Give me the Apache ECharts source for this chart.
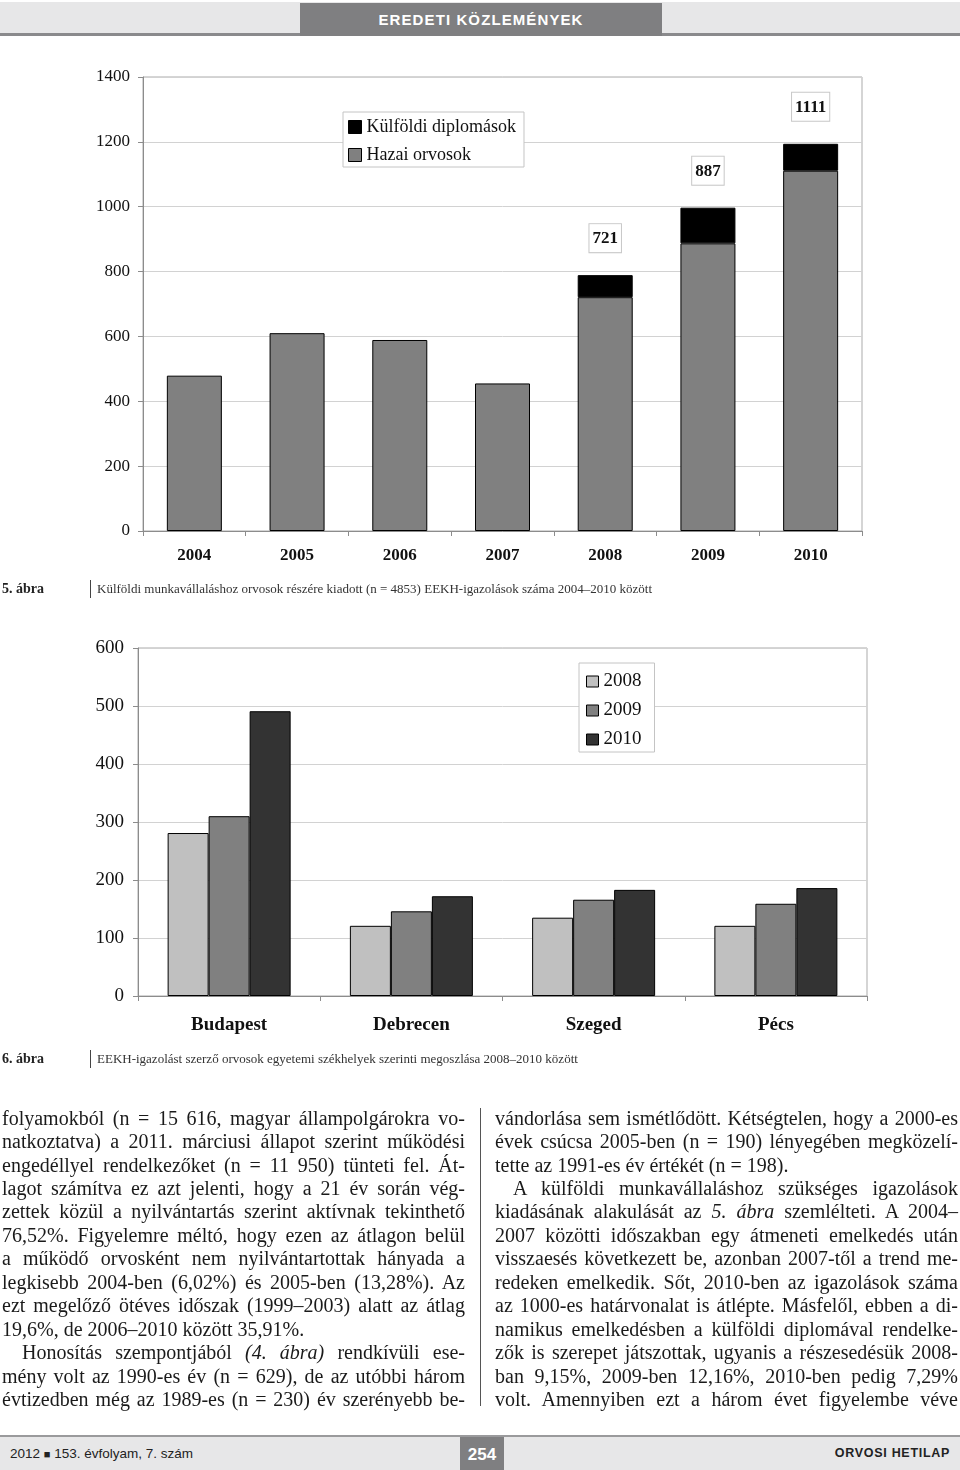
<!DOCTYPE html>
<html>
<head>
<meta charset="utf-8">
<script src="https://cdn.jsdelivr.net/npm/echarts@6/dist/echarts.min.js"></script>
<style>
html,body{margin:0;padding:0;background:#fff;}
body{width:960px;height:1470px;position:relative;overflow:hidden;}
#chart{position:absolute;left:0;top:0;width:960px;height:1470px;}
.abs{position:absolute;z-index:2;}
.hdrband{left:0;top:2px;width:960px;height:31px;background:#e7e7e8;border-bottom:3px solid #8a8a8c;}
.hdrbox{left:300px;top:3px;width:362px;height:33px;background:#7f7f81;color:#fff;font-family:"Liberation Sans",Arial,sans-serif;font-size:15px;font-weight:bold;letter-spacing:1.1px;line-height:34px;text-align:center;}
.cap{font-family:"Liberation Serif",serif;font-size:13px;color:#333;line-height:18px;white-space:nowrap;}
.capnum{font-family:"Liberation Serif",serif;font-size:14px;font-weight:bold;color:#222;line-height:18px;}
.capbar{width:0;border-left:1px solid #444;height:18px;}
.col{font-family:"Liberation Serif",serif;font-size:20px;color:#1a1a1a;}
.ln{height:23.47px;line-height:23.47px;text-align:justify;text-align-last:justify;white-space:normal;}
.ln.last{text-align:left;text-align-last:left;}
.ln.ind{text-indent:20px;}
.rule{left:480px;top:1108px;width:0;height:298px;border-left:1px solid #555;}
.ftline{left:0;top:1435px;width:960px;height:2px;background:#9a9a9c;}
.ftband{left:0;top:1437px;width:960px;height:33px;background:#e7e7e8;}
.ftleft{left:10px;top:1437px;height:33px;line-height:33px;font-family:"Liberation Sans",Arial,sans-serif;font-size:13.5px;color:#222;}
.ftbox{left:460px;top:1437px;width:44px;height:33px;background:#7f7f81;color:#fff;font-family:"Liberation Sans",Arial,sans-serif;font-size:17px;font-weight:bold;line-height:35px;text-align:center;}
.ftright{right:10px;top:1437px;height:33px;line-height:33px;font-family:"Liberation Sans",Arial,sans-serif;font-size:12.5px;font-weight:bold;letter-spacing:0.7px;color:#222;}
</style>
</head>
<body>
<div id="chart"></div>

<div class="abs hdrband"></div>
<div class="abs hdrbox">EREDETI KÖZLEMÉNYEK</div>

<div class="abs capnum" style="left:2px;top:580px;">5. ábra</div>
<div class="abs capbar" style="left:90px;top:580px;"></div>
<div class="abs cap" style="left:97px;top:580px;">Külföldi munkavállaláshoz orvosok részére kiadott (n = 4853) EEKH-igazolások száma 2004–2010 között</div>

<div class="abs capnum" style="left:2px;top:1050px;">6. ábra</div>
<div class="abs capbar" style="left:90px;top:1050px;"></div>
<div class="abs cap" style="left:97px;top:1050px;">EEKH-igazolást szerző orvosok egyetemi székhelyek szerinti megoszlása 2008–2010 között</div>

<div class="abs col" style="left:2px;top:1106.6px;width:463px;">
<div class="ln">folyamokból (n = 15 616, magyar állampolgárokra vo-</div>
<div class="ln">natkoztatva) a 2011. márciusi állapot szerint működési</div>
<div class="ln">engedéllyel rendelkezőket (n = 11 950) tünteti fel. Át-</div>
<div class="ln">lagot számítva ez azt jelenti, hogy a 21 év során vég-</div>
<div class="ln">zettek közül a nyilvántartás szerint aktívnak tekinthető</div>
<div class="ln">76,52%. Figyelemre méltó, hogy ezen az átlagon belül</div>
<div class="ln">a működő orvosként nem nyilvántartottak hányada a</div>
<div class="ln">legkisebb 2004-ben (6,02%) és 2005-ben (13,28%). Az</div>
<div class="ln">ezt megelőző ötéves időszak (1999–2003) alatt az átlag</div>
<div class="ln last">19,6%, de 2006–2010 között 35,91%.</div>
<div class="ln ind">Honosítás szempontjából <i>(4. ábra)</i> rendkívüli ese-</div>
<div class="ln">mény volt az 1990-es év (n = 629), de az utóbbi három</div>
<div class="ln">évtizedben még az 1989-es (n = 230) év szerényebb be-</div>
</div>

<div class="abs rule"></div>

<div class="abs col" style="left:495px;top:1106.6px;width:463px;">
<div class="ln">vándorlása sem ismétlődött. Kétségtelen, hogy a 2000-es</div>
<div class="ln">évek csúcsa 2005-ben (n = 190) lényegében megközelí-</div>
<div class="ln last">tette az 1991-es év értékét (n = 198).</div>
<div class="ln ind" style="text-indent:18px;">A külföldi munkavállaláshoz szükséges igazolások</div>
<div class="ln">kiadásának alakulását az <i>5. ábra</i> szemlélteti. A 2004–</div>
<div class="ln">2007 közötti időszakban egy átmeneti emelkedés után</div>
<div class="ln">visszaesés következett be, azonban 2007-től a trend me-</div>
<div class="ln">redeken emelkedik. Sőt, 2010-ben az igazolások száma</div>
<div class="ln">az 1000-es határvonalat is átlépte. Másfelől, ebben a di-</div>
<div class="ln">namikus emelkedésben a külföldi diplomával rendelke-</div>
<div class="ln">zők is szerepet játszottak, ugyanis a részesedésük 2008-</div>
<div class="ln">ban 9,15%, 2009-ben 12,16%, 2010-ben pedig 7,29%</div>
<div class="ln">volt. Amennyiben ezt a három évet figyelembe véve</div>
</div>

<div class="abs ftline"></div>
<div class="abs ftband"></div>
<div class="abs ftleft">2012 <span style="font-size:11px;">■</span> 153. évfolyam, 7. szám</div>
<div class="abs ftbox">254</div>
<div class="abs ftright">ORVOSI HETILAP</div>

<script>
// ---- Figure 5 data ----
var years = ['2004', '2005', '2006', '2007', '2008', '2009', '2010'];
var hazaiOrvosok = [479, 610, 589, 455, 721, 887, 1111];
var kulfoldiDiplomasok = ['-', '-', '-', '-', 68, 110, 83];
var fig5YTicks = { min: 0, max: 1400, interval: 200 };

// ---- Figure 6 data ----
var cities = ['Budapest', 'Debrecen', 'Szeged', 'Pécs'];
var y2008 = [281, 121, 135, 121];
var y2009 = [310, 146, 166, 159];
var y2010 = [491, 172, 183, 186];
var fig6YTicks = { min: 0, max: 600, interval: 100 };

var SERIF = 'Liberation Serif';
var chart = echarts.init(document.getElementById('chart'), null, { renderer: 'canvas' });

function yAxisCfg(idx, ticks, fs, margin) {
  return {
    type: 'value', gridIndex: idx, min: ticks.min, max: ticks.max, interval: ticks.interval,
    axisLine: { show: true, lineStyle: { color: '#8c8c8c', width: 1 } },
    axisTick: { show: true, length: 5, lineStyle: { color: '#8c8c8c' } },
    splitLine: { show: true, lineStyle: { color: '#d2d2d2', width: 1 } },
    axisLabel: { fontFamily: SERIF, fontSize: fs, color: '#111', margin: margin,
      formatter: function (v) { return String(v); } }
  };
}
function xAxisCfg(idx, cats, fs, margin) {
  return {
    type: 'category', gridIndex: idx, data: cats,
    axisLine: { show: true, lineStyle: { color: '#8c8c8c', width: 1 } },
    axisTick: { show: true, length: 5, lineStyle: { color: '#8c8c8c' } },
    axisLabel: { fontFamily: SERIF, fontSize: fs, fontWeight: 'bold', color: '#111', margin: margin }
  };
}

var option = {
  animation: false,
  backgroundColor: '#fff',
  grid: [
    { left: 143, top: 77, width: 719, height: 454, show: true, borderColor: '#ababab', borderWidth: 1, backgroundColor: 'transparent' },
    { left: 138, top: 648, width: 729, height: 348, show: true, borderColor: '#ababab', borderWidth: 1, backgroundColor: 'transparent' }
  ],
  legend: [
    {
      data: ['Külföldi diplomások', 'Hazai orvosok'],
      orient: 'vertical', left: 343, top: 112,
      padding: [6, 8, 3, 5], itemGap: 10, itemWidth: 13, itemHeight: 13,
      backgroundColor: '#fff', borderColor: '#c4c4c4', borderWidth: 1, borderRadius: 0,
      icon: 'rect', itemStyle: { borderColor: '#000', borderWidth: 1 },
      textStyle: { fontFamily: SERIF, fontSize: 18, color: '#111', lineHeight: 18 }
    },
    {
      data: ['2008', '2009', '2010'],
      orient: 'vertical', left: 579, top: 663,
      padding: [9, 13, 3, 7], itemGap: 10, itemWidth: 12, itemHeight: 11,
      backgroundColor: '#fff', borderColor: '#c4c4c4', borderWidth: 1, borderRadius: 0,
      icon: 'rect', itemStyle: { borderColor: '#000', borderWidth: 1 },
      textStyle: { fontFamily: SERIF, fontSize: 19, color: '#111', lineHeight: 19 }
    }
  ],
  xAxis: [ xAxisCfg(0, years, 17, 16), xAxisCfg(1, cities, 19, 20) ],
  yAxis: [ yAxisCfg(0, fig5YTicks, 17, 13), yAxisCfg(1, fig6YTicks, 19, 14) ],
  series: [
    {
      name: 'Hazai orvosok', type: 'bar', stack: 'f5', xAxisIndex: 0, yAxisIndex: 0,
      data: hazaiOrvosok, barWidth: 55,
      itemStyle: { color: '#808080', borderColor: '#000', borderWidth: 1 }
    },
    {
      name: 'Külföldi diplomások', type: 'bar', stack: 'f5', xAxisIndex: 0, yAxisIndex: 0,
      data: kulfoldiDiplomasok, barWidth: 55,
      itemStyle: { color: '#000', borderColor: '#000', borderWidth: 1 },
      label: {
        show: true, position: 'top', distance: 23,
        formatter: function (p) { return String(hazaiOrvosok[p.dataIndex]); },
        fontFamily: SERIF, fontSize: 17, fontWeight: 'bold', color: '#111',
        backgroundColor: '#fff', borderColor: '#c8c8c8', borderWidth: 1,
        padding: [6, 3, 5, 3]
      }
    },
    {
      name: '2008', type: 'bar', xAxisIndex: 1, yAxisIndex: 1, data: y2008,
      barWidth: 41, barGap: '0%',
      itemStyle: { color: '#c0c0c0', borderColor: '#000', borderWidth: 1 }
    },
    {
      name: '2009', type: 'bar', xAxisIndex: 1, yAxisIndex: 1, data: y2009,
      barWidth: 41, barGap: '0%',
      itemStyle: { color: '#808080', borderColor: '#000', borderWidth: 1 }
    },
    {
      name: '2010', type: 'bar', xAxisIndex: 1, yAxisIndex: 1, data: y2010,
      barWidth: 41, barGap: '0%',
      itemStyle: { color: '#333333', borderColor: '#000', borderWidth: 1 }
    }
  ]
};
chart.setOption(option);
</script>
</body>
</html>
